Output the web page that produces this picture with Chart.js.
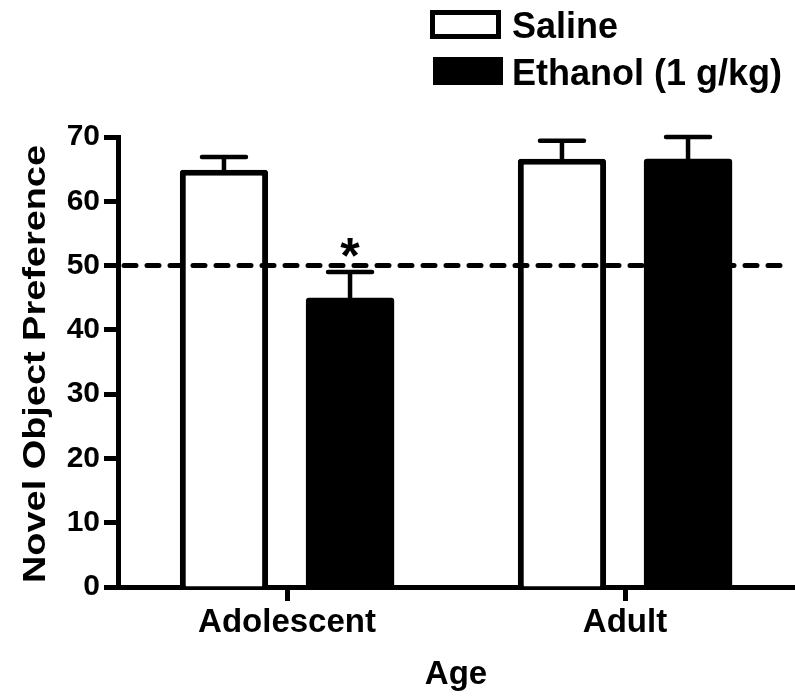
<!DOCTYPE html>
<html>
<head>
<meta charset="utf-8">
<script src="https://cdn.jsdelivr.net/npm/chart.js@4.4.0/dist/chart.umd.min.js"></script>
<style>
  body { margin: 0; background: #fff; }
  #wrap { width: 795px; height: 696px; }
</style>
</head>
<body>
<div id="wrap"><canvas id="novelChart"></canvas></div>
<script>
// data
const ageGroups = ['Adolescent', 'Adult'];
const salineMeans = [64.9, 66.6];
const salineSem = [2.0, 2.8];
const ethanolMeans = [45.0, 66.6];
const ethanolSem = [4.0, 3.4];
const ethanolMarks = ['*', ''];
const yTicks = [0, 10, 20, 30, 40, 50, 60, 70];
const chanceLevel = 50;

const FONT = '"Liberation Sans", Arial, Helvetica, sans-serif';

// dashed chance line at 50
const chanceLine = {
  id: 'chanceLine',
  afterDatasetsDraw(chart) {
    const { ctx, chartArea, scales } = chart;
    const py = scales.y.getPixelForValue(chanceLevel);
    ctx.save();
    ctx.strokeStyle = '#000';
    ctx.lineWidth = 5;
    ctx.lineCap = 'round';
    ctx.setLineDash([12, 11]);
    ctx.beginPath();
    ctx.moveTo(chartArea.left + 6, py);
    ctx.lineTo(chartArea.right - 4, py);
    ctx.stroke();
    ctx.restore();
  }
};

// SEM error bars (upper half only) + significance star
const errorBars = {
  id: 'errorBars',
  afterDatasetsDraw(chart) {
    const { ctx, scales } = chart;
    chart.data.datasets.forEach((ds, i) => {
      const meta = chart.getDatasetMeta(i);
      meta.data.forEach((bar, j) => {
        const top = scales.y.getPixelForValue(ds.data[j] + ds.sem[j]);
        ctx.save();
        ctx.strokeStyle = '#000';
        ctx.lineCap = 'round';
        ctx.lineWidth = 4.5;
        ctx.beginPath();
        ctx.moveTo(bar.x, bar.y);
        ctx.lineTo(bar.x, top);
        ctx.moveTo(bar.x - 22, top);
        ctx.lineTo(bar.x + 22, top);
        ctx.stroke();
        if (ds.marks && ds.marks[j]) {
          ctx.fillStyle = '#000';
          ctx.font = 'bold 50px ' + FONT;
          ctx.textAlign = 'center';
          ctx.textBaseline = 'alphabetic';
          ctx.fillText(ds.marks[j], bar.x, top + 1);
        }
        ctx.restore();
      });
    });
  }
};

// stacked legend in the top right
const boxLegend = {
  id: 'boxLegend',
  afterDraw(chart) {
    const { ctx } = chart;
    const rows = [{ x: 430, y: 10 }, { x: 433, y: 57 }];
    chart.data.datasets.forEach((ds, i) => {
      const r = rows[i];
      ctx.save();
      if (ds.legendHollow) {
        ctx.lineWidth = 5;
        ctx.strokeStyle = '#000';
        ctx.fillStyle = '#fff';
        ctx.fillRect(r.x + 2.5, r.y + 2.5, 66, 24);
        ctx.strokeRect(r.x + 2.5, r.y + 2.5, 66, 24);
      } else {
        ctx.fillStyle = '#000';
        ctx.fillRect(r.x, r.y, 70, 28);
      }
      ctx.fillStyle = '#000';
      ctx.font = 'bold 36px ' + FONT;
      ctx.textAlign = 'left';
      ctx.textBaseline = 'alphabetic';
      ctx.fillText(ds.label, 512, r.y + 28);
      ctx.restore();
    });
  }
};

// y axis title, stretched along its length like the original
const yTitle = {
  id: 'yTitle',
  afterDraw(chart) {
    const { ctx, chartArea } = chart;
    const text = 'Novel Object Preference';
    ctx.save();
    ctx.font = 'bold 31px ' + FONT;
    const w = ctx.measureText(text).width;
    const cy = (chartArea.top + chartArea.bottom) / 2 + 2;
    ctx.translate(45, cy);
    ctx.rotate(-Math.PI / 2);
    ctx.scale(438 / w, 1);
    ctx.fillStyle = '#000';
    ctx.textAlign = 'center';
    ctx.textBaseline = 'alphabetic';
    ctx.fillText(text, 0, 0);
    ctx.restore();
  }
};

const ctx = document.getElementById('novelChart').getContext('2d');
const novelChart = new Chart(ctx, {
  type: 'bar',
  data: {
    labels: ageGroups,
    datasets: [{
      label: 'Saline',
      data: salineMeans,
      sem: salineSem,
      backgroundColor: '#fff',
      borderColor: '#000',
      borderWidth: 6,
      borderRadius: 3,
      legendHollow: true
    }, {
      label: 'Ethanol (1 g/kg)',
      data: ethanolMeans,
      sem: ethanolSem,
      marks: ethanolMarks,
      backgroundColor: '#000',
      borderColor: '#000',
      borderWidth: 0,
      borderRadius: 3
    }]
  },
  options: {
    responsive: true,
    maintainAspectRatio: false,
    animation: false,
    categoryPercentage: 0.746,
    barPercentage: 0.70,
    layout: { padding: { top: 137, right: 1, bottom: 0, left: 0 } },
    plugins: {
      legend: { display: false },
      tooltip: { enabled: false }
    },
    scales: {
      x: {
        grid: {
          offset: false,
          drawOnChartArea: false,
          drawTicks: true,
          tickLength: 14,
          tickWidth: 5,
          tickColor: '#000'
        },
        border: { color: '#000', width: 5 },
        ticks: {
          color: '#000',
          padding: 2,
          font: { family: FONT, size: 33, weight: 'bold' }
        },
        title: {
          display: true,
          text: 'Age',
          color: '#000',
          padding: { top: 0, bottom: 1 },
          font: { family: FONT, size: 33, weight: 'bold' }
        },
        afterFit(scale) { scale.height = 109; }
      },
      y: {
        min: 0,
        max: 70,
        afterBuildTicks(scale) { scale.ticks = yTicks.map(v => ({ value: v })); },
        grid: {
          drawOnChartArea: false,
          drawTicks: true,
          tickLength: 14,
          tickWidth: 5,
          tickColor: '#000'
        },
        border: { color: '#000', width: 5 },
        ticks: {
          color: '#000',
          padding: 4,
          font: { family: FONT, size: 30, weight: 'bold' }
        },
        afterFit(scale) { scale.width = 118; }
      }
    }
  },
  plugins: [chanceLine, errorBars, boxLegend, yTitle]
});
</script>
</body>
</html>
